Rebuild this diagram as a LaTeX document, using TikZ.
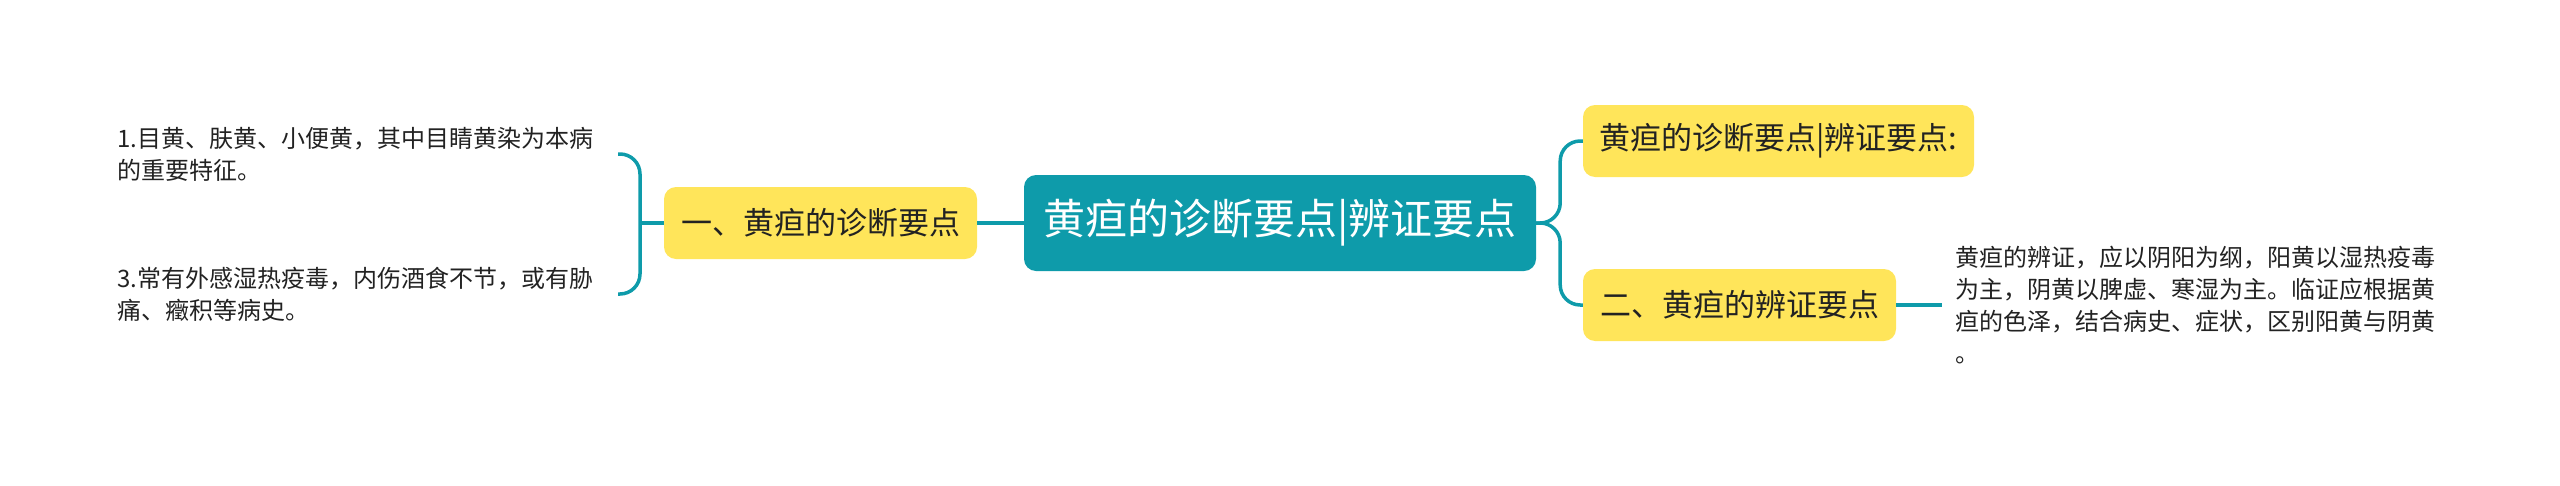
\documentclass[tikz,border=0pt]{standalone}
\usepackage{fontspec}
\newfontfamily\cjk{Noto Sans CJK SC}
\definecolor{teal1}{HTML}{0E9BAA}
\definecolor{yel}{HTML}{FFE55A}
\definecolor{txt}{HTML}{222222}
\begin{document}
\begin{tikzpicture}[x=1pt,y=1pt,
  central/.style={fill=teal1,rounded corners=12pt,text=white,minimum width=512pt,minimum height=96pt,inner sep=0pt,font=\cjk\fontsize{42}{50}\selectfont},
  ybox/.style={fill=yel,rounded corners=12pt,text=txt,minimum height=72pt,inner sep=0pt,font=\cjk\fontsize{31}{38}\selectfont},
  leaf/.style={align=left,text=txt,inner sep=0pt,font=\cjk\fontsize{24}{32}\selectfont},
  conn/.style={draw=teal1,line width=3.5pt,rounded corners=20pt}]
\useasboundingbox (0,0) rectangle (2560,-485);
\node[central] (c) at (1280,-223) {黄疸的诊断要点|辨证要点};
\node[ybox,minimum width=313pt] (l1) at (820.5,-223) {一、黄疸的诊断要点};
\node[ybox,minimum width=391pt] (r1) at (1778.5,-141) {黄疸的诊断要点|辨证要点:};
\node[ybox,minimum width=313pt] (r2) at (1739.5,-305) {二、黄疸的辨证要点};
\node[leaf,anchor=west] (t1) at (117,-154) {1.目黄、肤黄、小便黄，其中目睛黄染为本病\\的重要特征。};
\node[leaf,anchor=west] (t3) at (117,-294) {3.常有外感湿热疫毒，内伤酒食不节，或有胁\\痛、癥积等病史。};
\node[leaf,anchor=west,inner xsep=13pt] (t2) at (1942,-305) {黄疸的辨证，应以阴阳为纲，阳黄以湿热疫毒\\为主，阴黄以脾虚、寒湿为主。临证应根据黄\\疸的色泽，结合病史、症状，区别阳黄与阴黄\\。};
\coordinate (bt) at (618,-154);
\coordinate (bb) at (618,-294);
\coordinate (bm) at (640,-223);
\draw[conn] (c.west) -- (l1.east);
\draw[conn] (l1.west) -- (bm);
\draw[conn] (bt) -| (bm) |- (bb);
\draw[conn] (c.east) -- ++(24,0) |- (r1.west);
\draw[conn] (c.east) -- ++(24,0) |- (r2.west);
\draw[conn] (r2.east) -- (t2.west);
\end{tikzpicture}
\end{document}
